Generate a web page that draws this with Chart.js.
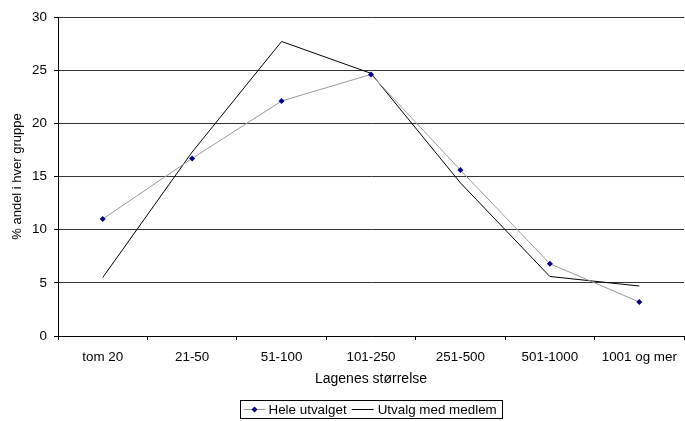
<!DOCTYPE html>
<html>
<head>
<meta charset="utf-8">
<script src="https://cdn.jsdelivr.net/npm/chart.js@4/dist/chart.umd.min.js"></script>
<style>
  html, body { margin: 0; padding: 0; background: #fff; overflow: hidden; }
  #wrap { width: 688px; height: 421px; }
</style>
</head>
<body>
<div id="wrap"><canvas id="lineChart"></canvas></div>
<script>
// Kategorier og verdier (% andel i hver gruppe)
const categories = ["tom 20", "21-50", "51-100", "101-250", "251-500", "501-1000", "1001 og mer"];
const heleUtvalget = [11.0, 16.7, 22.1, 24.6, 15.6, 6.8, 3.2];
const utvalgMedMedlem = [5.5, 17.3, 27.7, 24.7, 14.4, 5.6, 4.7];
const yTicks = [0, 5, 10, 15, 20, 25, 30];

const FAMILY = "'Liberation Sans', Arial, sans-serif";
const FONT = { family: FAMILY, size: 13.4 };

/* ==========================
   Boxed legend below chart
========================== */
const boxedLegend = {
    id: "boxedLegend",
    afterDraw(chart) {
        const ctx = chart.ctx;
        const sets = chart.data.datasets;
        ctx.save();
        ctx.font = "13.4px " + FAMILY;
        ctx.textBaseline = "middle";
        const lineLen = 22;
        const parts = sets.map(ds => ctx.measureText(ds.label).width);
        const total = 3 + lineLen + 3 + parts[0] + 5 + lineLen + 4 + parts[1] + 6;
        const mid = (chart.chartArea.left + chart.chartArea.right) / 2;
        const left = Math.round(mid - total / 2) + 0.5;
        const top = 400.5, h = 18;
        ctx.strokeStyle = "#000";
        ctx.lineWidth = 1;
        ctx.strokeRect(left, top, Math.round(total), h);
        const cy = top + h / 2;
        let x = left + 3;
        sets.forEach((ds, i) => {
            ctx.strokeStyle = ds.borderColor;
            ctx.beginPath();
            ctx.moveTo(x, cy);
            ctx.lineTo(x + lineLen, cy);
            ctx.stroke();
            if (ds.pointRadius > 0) {
                const r = 3, px = x + lineLen / 2;
                ctx.fillStyle = ds.pointBackgroundColor;
                ctx.beginPath();
                ctx.moveTo(px, cy - r);
                ctx.lineTo(px + r, cy);
                ctx.lineTo(px, cy + r);
                ctx.lineTo(px - r, cy);
                ctx.closePath();
                ctx.fill();
            }
            x += lineLen + (i === 0 ? 3 : 4);
            ctx.fillStyle = "#000";
            ctx.fillText(ds.label, x, cy + 1);
            x += parts[i] + 5;
        });
        ctx.restore();
    }
};

new Chart(document.getElementById("lineChart"), {
    type: "line",
    data: {
        labels: categories,
        datasets: [
            {
                label: "Hele utvalget",
                data: heleUtvalget,
                borderColor: "#999999",
                borderWidth: 1,
                pointStyle: "rectRot",
                pointRadius: 3,
                pointBackgroundColor: "#000080",
                pointBorderColor: "#000080",
                pointBorderWidth: 0,
                tension: 0
            },
            {
                label: "Utvalg med medlem",
                data: utvalgMedMedlem,
                borderColor: "#000000",
                borderWidth: 1,
                pointRadius: 0,
                tension: 0
            }
        ]
    },
    options: {
        responsive: true,
        maintainAspectRatio: false,
        animation: false,
        layout: { padding: { left: 0, right: 0, top: 17, bottom: 0 } },
        plugins: {
            legend: { display: false },
            tooltip: { enabled: false }
        },
        scales: {
            x: {
                offset: true,
                grid: {
                    offset: true,
                    drawOnChartArea: false,
                    drawTicks: true,
                    tickLength: 4,
                    color: "#000"
                },
                border: { color: "#000", width: 1 },
                ticks: {
                    color: "#000",
                    font: FONT,
                    padding: 9,
                    maxRotation: 0,
                    autoSkip: false
                },
                title: {
                    display: true,
                    text: "Lagenes størrelse",
                    color: "#000",
                    font: { family: FAMILY, size: 14 },
                    padding: { top: 0, bottom: 33 }
                },
                afterFit(scale) { scale.height = 85; }
            },
            y: {
                min: 0,
                max: 30,
                afterBuildTicks(scale) {
                    scale.ticks = yTicks.map(v => ({ value: v }));
                },
                grid: {
                    color: "#333",
                    lineWidth: 1,
                    drawTicks: true,
                    tickLength: 4,
                    tickColor: "#000"
                },
                border: { color: "#000", width: 1 },
                ticks: {
                    color: "#000",
                    font: FONT,
                    padding: 7
                },
                title: {
                    display: true,
                    text: "% andel i hver gruppe",
                    color: "#000",
                    font: { family: FAMILY, size: 13 },
                    padding: { top: 10, bottom: 0 }
                },
                afterFit(scale) { scale.width = 58; }
            }
        }
    },
    plugins: [boxedLegend]
});
</script>
</body>
</html>
